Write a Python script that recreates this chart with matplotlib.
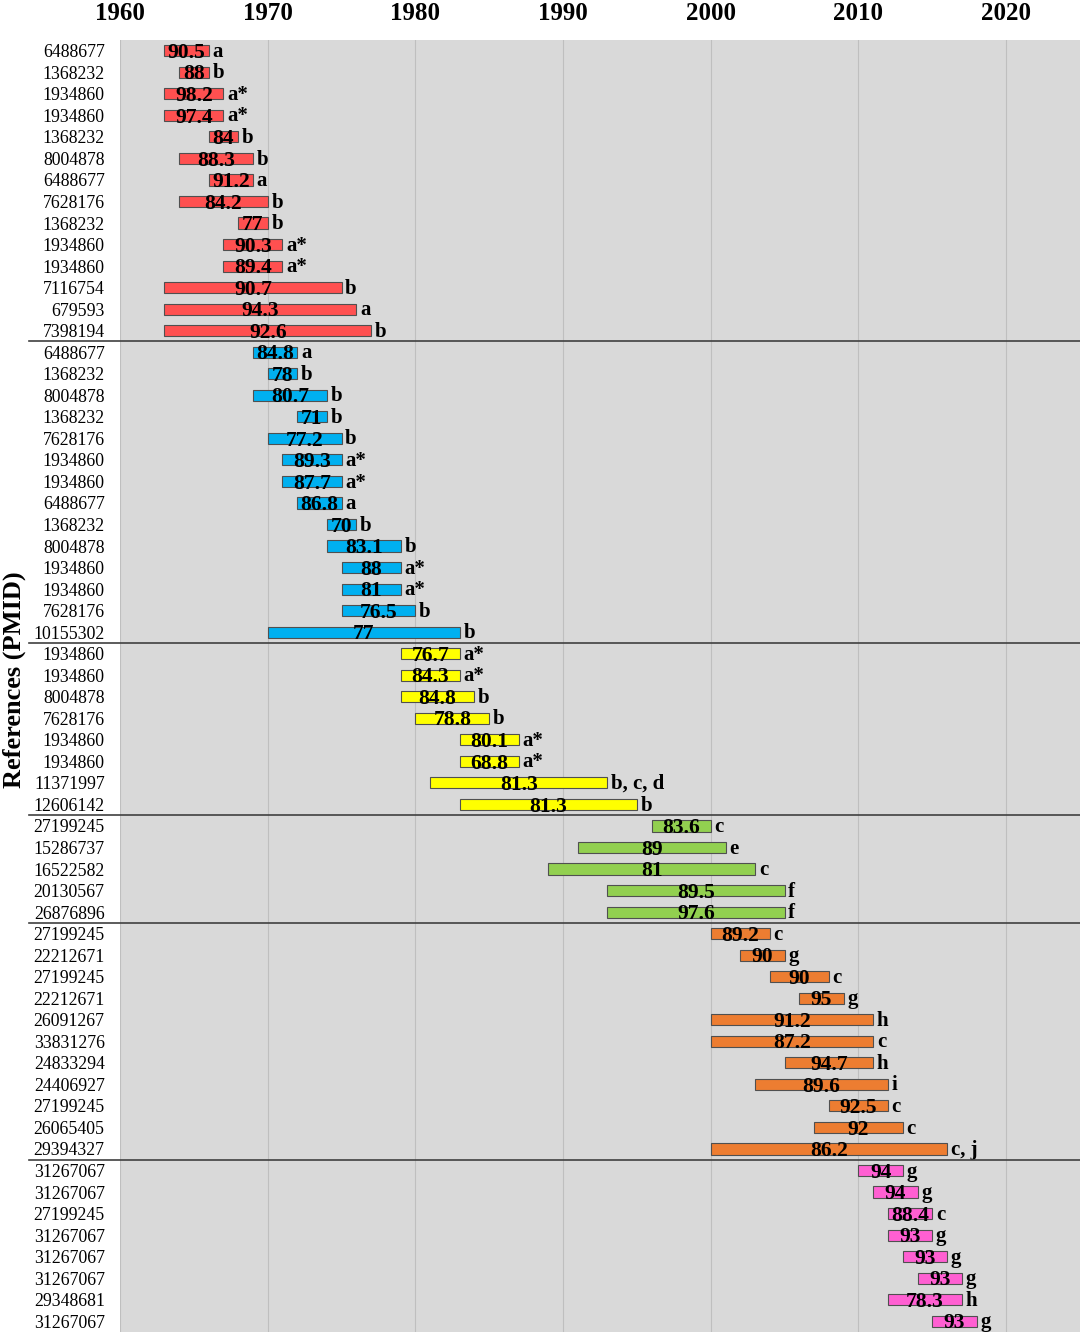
"""Timeline of study periods per reference (PMID), grouped by era."""
import matplotlib
matplotlib.use('Agg')
import matplotlib.pyplot as plt

# one entry per row, top to bottom
pmids = [
    '6488677', '1368232', '1934860', '1934860', '1368232', '8004878', '6488677',
    '7628176', '1368232', '1934860', '1934860', '7116754', '679593', '7398194',
    '6488677', '1368232', '8004878', '1368232', '7628176', '1934860', '1934860',
    '6488677', '1368232', '8004878', '1934860', '1934860', '7628176', '10155302',
    '1934860', '1934860', '8004878', '7628176', '1934860', '1934860', '11371997',
    '12606142',
    '27199245', '15286737', '16522582', '20130567', '26876896',
    '27199245', '22212671', '27199245', '22212671', '26091267', '33831276',
    '24833294', '24406927', '27199245', '26065405', '29394327',
    '31267067', '31267067', '27199245', '31267067', '31267067', '31267067',
    '29348681', '31267067',
]
start_year = [
    1963, 1964, 1963, 1963, 1966, 1964, 1966, 1964, 1968, 1967, 1967, 1963, 1963, 1963,
    1969, 1970, 1969, 1972, 1970, 1971, 1971, 1972, 1974, 1974, 1975, 1975, 1975, 1970,
    1979, 1979, 1979, 1980, 1983, 1983, 1981, 1983,
    1996, 1991, 1989, 1993, 1993,
    2000, 2002, 2004, 2006, 2000, 2000, 2005, 2003, 2008, 2007, 2000,
    2010, 2011, 2012, 2012, 2013, 2014, 2012, 2015,
]
end_year = [
    1966, 1966, 1967, 1967, 1968, 1969, 1969, 1970, 1970, 1971, 1971, 1975, 1976, 1977,
    1972, 1972, 1974, 1974, 1975, 1975, 1975, 1975, 1976, 1979, 1979, 1979, 1980, 1983,
    1983, 1983, 1984, 1985, 1987, 1987, 1993, 1995,
    2000, 2001, 2003, 2005, 2005,
    2004, 2005, 2008, 2009, 2011, 2011, 2011, 2012, 2012, 2013, 2016,
    2013, 2014, 2015, 2015, 2016, 2017, 2017, 2018,
]
values = [
    90.5, 88, 98.2, 97.4, 84, 88.3, 91.2, 84.2, 77, 90.3, 89.4, 90.7, 94.3, 92.6,
    84.8, 78, 80.7, 71, 77.2, 89.3, 87.7, 86.8, 70, 83.1, 88, 81, 76.5, 77,
    76.7, 84.3, 84.8, 78.8, 80.1, 68.8, 81.3, 81.3,
    83.6, 89, 81, 89.5, 97.6,
    89.2, 90, 90, 95, 91.2, 87.2, 94.7, 89.6, 92.5, 92, 86.2,
    94, 94, 88.4, 93, 93, 93, 78.3, 93,
]
notes = [
    'a', 'b', 'a*', 'a*', 'b', 'b', 'a', 'b', 'b', 'a*', 'a*', 'b', 'a', 'b',
    'a', 'b', 'b', 'b', 'b', 'a*', 'a*', 'a', 'b', 'b', 'a*', 'a*', 'b', 'b',
    'a*', 'a*', 'b', 'b', 'a*', 'a*', 'b, c, d', 'b',
    'c', 'e', 'c', 'f', 'f',
    'c', 'g', 'c', 'g', 'h', 'c', 'h', 'i', 'c', 'c', 'c, j',
    'g', 'g', 'c', 'g', 'g', 'g', 'h', 'g',
]
group_sizes = [14, 14, 8, 5, 11, 8]
group_colors = ['#FF5050', '#00B0F0', '#FFFF00', '#92D050', '#ED7D31', '#FF5FD2']
year_ticks = [1960, 1970, 1980, 1990, 2000, 2010, 2020]

plt.rcParams['font.family'] = ['Liberation Serif', 'DejaVu Serif']

fig = plt.figure(figsize=(10.8, 13.36), dpi=100)
ax = fig.add_axes([120 / 1080, 4 / 1336, 960 / 1080, 1292 / 1336])
ax.set_facecolor('#D9D9D9')

colors = []
for size, col in zip(group_sizes, group_colors):
    colors += [col] * size

rows = list(range(len(pmids)))
widths = [e - s for s, e in zip(start_year, end_year)]
ax.barh(rows, widths, left=start_year, height=0.52, color=colors,
        edgecolor='#505050', linewidth=0.8, zorder=3)

for i in rows:
    mid = (start_year[i] + end_year[i]) / 2
    ax.text(mid, i + 0.1, '%g' % values[i], ha='center', va='center',
            fontsize=15.5, fontweight='bold', zorder=4)
    ax.text(end_year[i] + 0.25, i + 0.05, notes[i], ha='left', va='center',
            fontsize=15, fontweight='bold', zorder=4)

# group separators reach into the label column
pos = -0.5
for size in group_sizes[:-1]:
    pos += size
    ax.axhline(pos, xmin=-0.095, xmax=1, color='#404040', linewidth=1.2,
               clip_on=False, zorder=5)

ax.set_xlim(1960, 2025)
ax.set_ylim(len(pmids) - 0.5, -0.5)
ax.set_xticks(year_ticks)
ax.xaxis.tick_top()
ax.tick_params(axis='x', length=0, labelsize=18, pad=11)
for lab in ax.get_xticklabels():
    lab.set_fontweight('bold')
ax.set_yticks(rows)
ax.set_yticklabels(pmids, fontsize=12.8)
ax.tick_params(axis='y', length=0, pad=11)
ax.grid(axis='x', color='#BFBFBF', linewidth=0.8, zorder=0)
ax.set_axisbelow(True)
for sp in ax.spines.values():
    sp.set_visible(False)

fig.text(14 / 1080, 1 - 680 / 1336, 'References (PMID)', rotation=90,
         ha='center', va='center', fontsize=19, fontweight='bold')

fig.savefig('out.png', dpi=100)
